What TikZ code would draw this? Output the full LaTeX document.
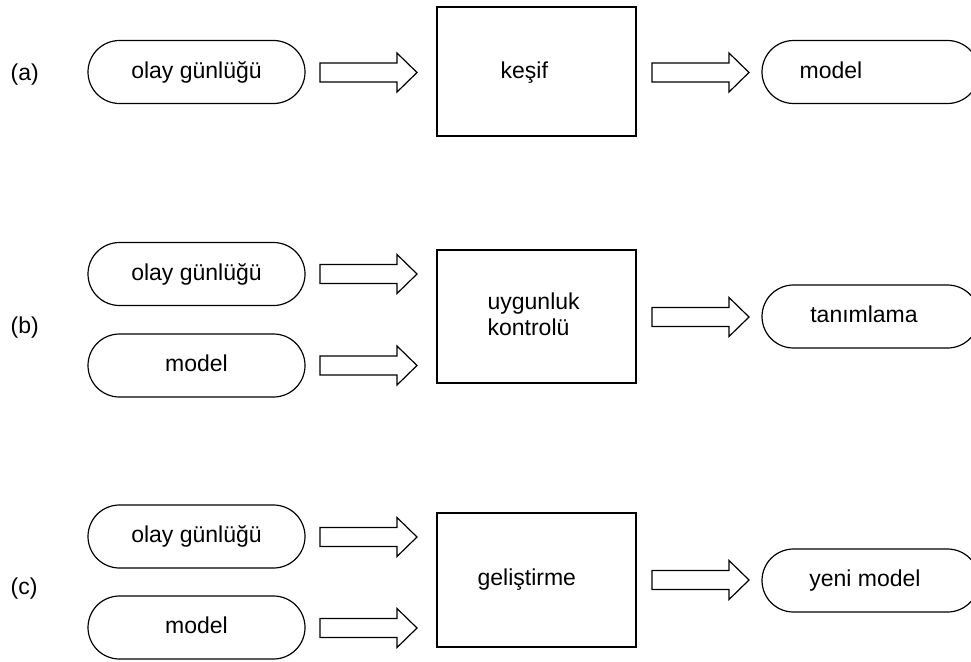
\documentclass[tikz,border=0pt]{standalone}
\usepackage{fontspec}
\setmainfont{Liberation Sans}
\begin{document}
\begin{tikzpicture}[x=1pt,y=-1pt,line width=1.2pt,
  lbl/.style={font=\fontsize{23}{26}\selectfont, inner sep=0pt, text height=17pt, text depth=5pt},
  oval/.style={draw, rounded corners=31.5pt, minimum width=217pt, minimum height=63pt, inner sep=0pt, font=\fontsize{23}{26}\selectfont, text height=17pt, text depth=5pt},
  boxnode/.style={draw, minimum width=199pt, inner sep=0pt},
  blk/.pic={\draw (0,-9.5) -- (77,-9.5) -- (77,-19.5) -- (97,0) -- (77,19.5) -- (77,9.5) -- (0,9.5) -- cycle;}
]
\useasboundingbox (0,0) rectangle (971,661);
\clip (0,0) rectangle (971,661);

% row (a)
\node[lbl, anchor=west] (la) at (10,74) {(a)};
\node[oval] (a1) at (196.5,72) {olay günlüğü};
\pic (pa1) at (320,72.5) {blk};
\node[boxnode, minimum height=129pt] (ab) at (536.5,71.5) {};
\node[lbl, anchor=west] (abt) at (500,72) {keşif};
\pic (pa2) at (652,72.5) {blk};
\node[oval] (a3) at (870.5,72) {};
\node[lbl] (a3t) at (831,72) {model};

% row (b)
\node[lbl, anchor=west] (lb) at (10,327) {(b)};
\node[oval] (b1) at (196.5,274) {olay günlüğü};
\node[oval] (b2) at (196.5,365.5) {model};
\pic (pb1) at (320,274) {blk};
\pic (pb2) at (320,365.5) {blk};
\node[boxnode, minimum height=133pt] (bb) at (536.5,316.5) {};
\node[font=\fontsize{23}{26}\selectfont, inner sep=0pt, align=left, anchor=north west] (bbt) at (487,292) {uygunluk\\kontrolü};
\pic (pb3) at (652,317) {blk};
\node[oval] (b3) at (870.5,316.5) {};
\node[lbl] (b3t) at (864,316.5) {tanımlama};

% row (c)
\node[lbl, anchor=west] (lc) at (10,588) {(c)};
\node[oval] (c1) at (196.5,536.5) {olay günlüğü};
\node[oval] (c2) at (196.5,627.5) {model};
\pic (pc1) at (320,537) {blk};
\pic (pc2) at (320,628) {blk};
\node[boxnode, minimum height=134pt] (cb) at (536.5,580) {};
\node[lbl, anchor=west] (cbt) at (477,579) {geliştirme};
\pic (pc3) at (652,580) {blk};
\node[oval] (c3) at (870.5,580.5) {};
\node[lbl] (c3t) at (865,580.5) {yeni model};
\end{tikzpicture}
\end{document}
